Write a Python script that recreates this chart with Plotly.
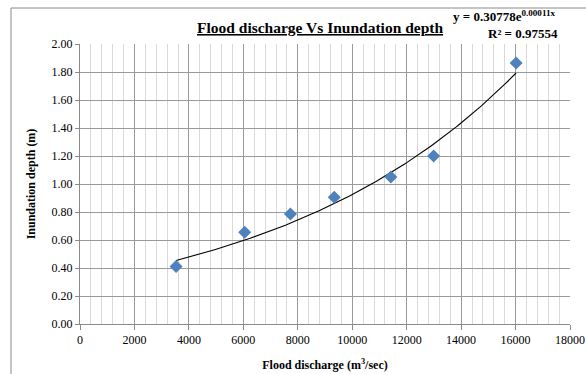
import numpy as np
import plotly.graph_objects as go

# Observed flood discharge (m3/sec) and inundation depth (m)
discharge = [3530, 6050, 7730, 9340, 11420, 12990, 16020]
depth = [0.41, 0.655, 0.785, 0.905, 1.05, 1.20, 1.865]

# Exponential trendline coefficients: y = a * exp(b * x)
trend_a = 0.30778
trend_b = 0.00011
r_squared = 0.97554

x_ticks = list(range(0, 18001, 2000))
y_ticks = [round(0.2 * i, 2) for i in range(11)]

serif = "Liberation Serif, Times New Roman, serif"

trend_x = np.linspace(min(discharge), max(discharge), 200)
trend_y = trend_a * np.exp(trend_b * trend_x)

fig = go.Figure()
fig.add_trace(go.Scatter(
    x=trend_x, y=trend_y, mode="lines",
    line=dict(color="black", width=1.1),
    hoverinfo="skip", showlegend=False,
))
fig.add_trace(go.Scatter(
    x=discharge, y=depth, mode="markers",
    marker=dict(symbol="diamond", size=10, color="#4F81BD",
                line=dict(width=0)),
    showlegend=False,
))

fig.update_layout(
    width=586, height=374,
    margin=dict(l=80, r=16, t=44, b=50),
    paper_bgcolor="white", plot_bgcolor="white",
    font=dict(family=serif, size=12, color="black"),
    xaxis=dict(
        range=[0, 18000], tickvals=x_ticks, tickformat="d",
        automargin=False,
        showgrid=True, gridcolor="#9a9a9a", gridwidth=1,
        minor=dict(dtick=400, showgrid=True, gridcolor="#d9d9d9", gridwidth=1),
        showline=True, linecolor="#8a8a8a", linewidth=1,
        ticks="outside", ticklen=5, tickcolor="#8a8a8a",
        zeroline=False, tickfont=dict(family=serif, size=12),
        title=dict(text="<b>Flood discharge (m<sup>3</sup>/sec)</b>",
                   font=dict(family=serif, size=12), standoff=14),
    ),
    yaxis=dict(
        range=[0, 2.0], tickvals=y_ticks, tickformat=".2f",
        automargin=False,
        showgrid=True, gridcolor="#9a9a9a", gridwidth=1,
        showline=True, linecolor="#8a8a8a", linewidth=1,
        ticks="outside", ticklen=4, tickcolor="#8a8a8a",
        zeroline=False, tickfont=dict(family=serif, size=12),
        title=dict(text="<b>Inundation depth (m)</b>",
                   font=dict(family=serif, size=12), standoff=13),
    ),
)

# Chart title and trendline equation
fig.add_annotation(
    xref="paper", yref="paper", x=(320 - 80) / 490, y=1.0, yshift=17,
    xanchor="center", yanchor="middle", showarrow=False,
    text="<b><u>Flood discharge Vs Inundation depth</u></b>",
    font=dict(family=serif, size=15.5, color="black"),
)
fig.add_annotation(
    xref="paper", yref="paper", x=(451 - 80) / 490, y=1.0, yshift=28,
    xanchor="left", yanchor="middle", showarrow=False,
    text=f"<b>y = {trend_a}e<sup>{trend_b:.5f}x</sup></b>",
    font=dict(family=serif, size=13, color="black"),
)
fig.add_annotation(
    xref="paper", yref="paper", x=(486 - 80) / 490, y=1.0, yshift=11,
    xanchor="left", yanchor="middle", showarrow=False,
    text=f"<b>R² = {r_squared}</b>",
    font=dict(family=serif, size=13, color="black"),
)

# Chart-area border
fig.add_shape(
    type="rect", xref="paper", yref="paper",
    x0=(11 - 80) / 490, x1=(620 - 80) / 490,
    y0=(324 - 400) / 280, y1=(324 - 8) / 280,
    line=dict(color="#8a8a8a", width=1), fillcolor="rgba(0,0,0,0)",
    layer="below",
)

fig.write_html("out.html")
